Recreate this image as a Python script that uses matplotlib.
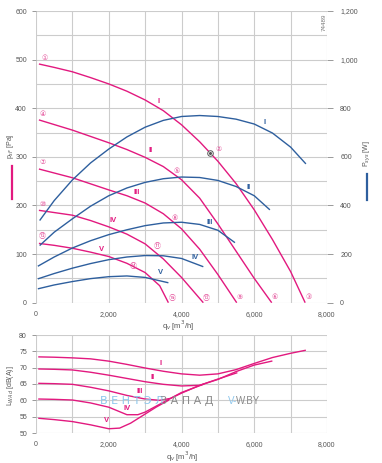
import matplotlib
matplotlib.use("Agg")
import matplotlib.pyplot as plt
from matplotlib.ticker import FuncFormatter, MultipleLocator
from matplotlib.lines import Line2D

plt.rcParams['font.family'] = ['Liberation Sans', 'DejaVu Sans', 'Noto Sans CJK SC']

# ---- data ----
# pressure curves p_sF [Pa] vs q_v [m3/h]
q_p1 = [80, 500, 1000, 1500, 2000, 2500, 3000, 3500, 4000, 4500, 5000, 5500, 6000, 6500, 7000, 7400]
p_1 = [491, 484, 475, 463, 450, 435, 417, 395, 366, 331, 291, 245, 191, 130, 64, 0]
q_p2 = [80, 1000, 2000, 2500, 3000, 3500, 4000, 4500, 5000, 5500, 6000, 6480]
p_2 = [376, 355, 329, 315, 299, 280, 253, 215, 162, 106, 50, 0]
q_p3 = [80, 1000, 2000, 2500, 3000, 3500, 4000, 4500, 5000, 5518]
p_3 = [275, 257, 232, 220, 205, 183, 152, 110, 58, 0]
q_p4 = [80, 1000, 1500, 2000, 2500, 3000, 3500, 4000, 4600]
p_4 = [190, 180, 169, 156, 141, 121, 90, 52, 0]
q_p5 = [80, 500, 1000, 1500, 2000, 2500, 3000, 3400, 3640]
p_5 = [122, 118, 112, 104, 95, 81, 62, 35, 0]

# power curves P_sys [W]
q_w1 = [100, 500, 1000, 1500, 2000, 2500, 3000, 3500, 4000, 4500, 5000, 5500, 6000, 6500, 7000, 7420]
w_1 = [338, 420, 505, 575, 632, 682, 722, 750, 766, 770, 766, 755, 735, 698, 640, 571]
q_w2 = [100, 500, 1000, 1500, 2000, 2500, 3000, 3500, 4000, 4500, 5000, 5500, 6000, 6430]
w_2 = [235, 290, 345, 397, 440, 472, 495, 510, 517, 515, 503, 478, 440, 382]
q_w3 = [50, 500, 1000, 1500, 2000, 2500, 3000, 3500, 4000, 4500, 5000, 5470]
w_3 = [150, 188, 225, 255, 280, 300, 317, 328, 331, 322, 298, 247]
q_w4 = [50, 500, 1000, 1500, 2000, 2500, 3000, 3500, 4000, 4600]
w_4 = [98, 120, 142, 161, 177, 188, 194, 193, 182, 148]
q_w5 = [50, 500, 1000, 1500, 2000, 2500, 3000, 3640]
w_5 = [57, 73, 87, 99, 107, 110, 104, 82]

# sound power L_WAd [dB(A)]
q_l1 = [80, 500, 1000, 1500, 2000, 2500, 3000, 3500, 4000, 4500, 5000, 5500, 6000, 6500, 7000, 7400]
l_1 = [73.3, 73.2, 73.0, 72.7, 72.0, 71.0, 69.9, 68.9, 68.1, 67.7, 68.1, 69.4, 71.3, 73.1, 74.4, 75.3]
q_l2 = [80, 500, 1000, 1500, 2000, 2500, 3000, 3500, 4000, 4500, 5000, 5500, 6000, 6480]
l_2 = [69.6, 69.5, 69.3, 68.6, 67.7, 66.7, 65.7, 64.9, 64.4, 64.6, 66.4, 68.8, 70.8, 72.0]
q_l3 = [80, 500, 1000, 1500, 2000, 2500, 3000, 3400, 3700, 4000, 4500, 5000, 5518]
l_3 = [65.2, 65.1, 64.9, 64.0, 62.9, 61.5, 60.4, 60.0, 60.6, 62.2, 64.6, 66.5, 68.4]
q_l4 = [80, 500, 1000, 1500, 2000, 2500, 2800, 3000, 3500, 4000, 4600]
l_4 = [60.4, 60.3, 60.1, 59.2, 57.9, 55.6, 55.6, 56.4, 59.4, 62.4, 64.9]
q_l5 = [80, 500, 1000, 1500, 2000, 2300, 2600, 3000, 3300, 3640]
l_5 = [54.5, 54.1, 53.5, 52.5, 51.3, 51.5, 53.0, 55.8, 57.9, 60.0]

romans = ['I', 'II', 'III', 'IV', 'V']
start_nums = ['①', '④', '⑦', '⑩', '⑬']
mid_nums = ['②', '⑤', '⑧', '⑪', '⑭']
end_nums = ['③', '⑥', '⑨', '⑫', '⑮']

PINK = '#e2197f'
BLUE = '#2e5f9e'
GRID = '#cccccc'
TXT = '#555555'

W, H = 382, 463
fig = plt.figure(figsize=(W / 100, H / 100), dpi=100)


def fx(px):
    return px / W


def fy(py):
    return 1 - py / H


comma = FuncFormatter(lambda v, pos: f'{v:,.0f}')

# ---------------- top chart ----------------
ax = fig.add_axes([fx(36), fy(302.7), fx(327) - fx(36), fy(11) - fy(302.7)])
ax.set_xlim(0, 8000)
ax.set_ylim(0, 600)
ax.xaxis.set_major_locator(MultipleLocator(2000))
ax.xaxis.set_minor_locator(MultipleLocator(1000))
ax.yaxis.set_major_locator(MultipleLocator(100))
ax.yaxis.set_minor_locator(MultipleLocator(50))
ax.xaxis.set_major_formatter(comma)
ax.grid(True, which='both', color=GRID, lw=0.8)
ax.set_axisbelow(True)
for s in ax.spines.values():
    s.set_visible(False)
ax.tick_params(axis='y', which='major', length=3, width=0.7, color='#999999',
               labelsize=5, labelcolor=TXT, pad=3.5)
ax.tick_params(axis='x', which='major', length=0, labelsize=5, labelcolor=TXT, pad=6)
ax.tick_params(which='minor', length=0)

ax2 = ax.twinx()
ax2.set_ylim(0, 1200)
ax2.yaxis.set_major_locator(MultipleLocator(200))
ax2.yaxis.set_major_formatter(comma)
for s in ax2.spines.values():
    s.set_visible(False)
ax2.tick_params(axis='y', length=4, width=0.7, color='#999999', labelsize=5,
                labelcolor=TXT, pad=5.5)

p_curves = [(q_p1, p_1), (q_p2, p_2), (q_p3, p_3), (q_p4, p_4), (q_p5, p_5)]
w_curves = [(q_w1, w_1), (q_w2, w_2), (q_w3, w_3), (q_w4, w_4), (q_w5, w_5)]
for q, p in p_curves:
    ax.plot(q, p, color=PINK, lw=1.0, solid_capstyle='butt')
for q, w in w_curves:
    ax2.plot(q, w, color=BLUE, lw=1.0, solid_capstyle='butt')

circ = dict(color='#e4509a', fontsize=5, ha='center', va='center',
            family=['DejaVu Sans', 'Noto Sans CJK SC'])
start_pos = [(230, 503), (180, 388), (175, 290), (175, 203), (175, 138)]
mid_pos = [(5030, 316), (3870, 270), (3820, 174), (3320, 117), (2660, 76)]
end_pos = [(7505, 11), (6570, 11), (5608, 11), (4693, 11), (3747, 11)]
for i in range(5):
    ax.text(*start_pos[i], start_nums[i], **circ)
    ax.text(*mid_pos[i], mid_nums[i], **circ)
    ax.text(*end_pos[i], end_nums[i], **circ)

# operating point marker
ax.plot([4784], [307], marker='o', ms=4, mfc='white', mec='#555555', mew=0.7)
ax.plot([4784], [307], marker='o', ms=1.2, color='#555555')

p_lab = [(3360, 414), (3150, 313), (2770, 227), (2125, 170), (1805, 110)]
for (x, y), r in zip(p_lab, romans):
    ax.text(x, y, r, color=PINK, fontsize=5.5, fontweight='bold', ha='center', va='center')
w_lab = [(6295, 741), (5837, 475), (4784, 329), (4370, 187), (3428, 123)]
for (x, y), r in zip(w_lab, romans):
    ax2.text(x, y, r, color=BLUE, fontsize=5.5, fontweight='bold', ha='center', va='center')

fig.text(fx(324), fy(22), '74489', rotation=90, fontsize=4.5, color='#777777',
         ha='center', va='center')

fig.text(fx(10.5), fy(146), r'p$_{sF}$ [Pa]', rotation=90, fontsize=5, color=TXT,
         ha='center', va='center')
fig.add_artist(Line2D([fx(12), fx(12)], [fy(166), fy(199)], color=PINK, lw=1.6))
fig.text(fx(367), fy(154), r'P$_{sys}$ [W]', rotation=90, fontsize=5, color=TXT,
         ha='center', va='center')
fig.add_artist(Line2D([fx(367), fx(367)], [fy(174), fy(200)], color=BLUE, lw=1.6))
fig.text(fx(178), fy(326), r'q$_v$ [m$^3$/h]', fontsize=5.5, color=TXT, ha='center', va='center')

# ---------------- bottom chart ----------------
bx = fig.add_axes([fx(36), fy(433), fx(327) - fx(36), fy(335) - fy(433)])
bx.set_xlim(0, 8000)
bx.set_ylim(50, 80)
bx.xaxis.set_major_locator(MultipleLocator(2000))
bx.xaxis.set_minor_locator(MultipleLocator(1000))
bx.yaxis.set_major_locator(MultipleLocator(5))
bx.xaxis.set_major_formatter(comma)
bx.grid(True, which='both', color=GRID, lw=0.8)
bx.set_axisbelow(True)
for s in bx.spines.values():
    s.set_visible(False)
bx.tick_params(axis='y', length=3, width=0.7, color='#999999', labelsize=5,
               labelcolor=TXT, pad=3.5)
bx.tick_params(axis='x', length=0, labelsize=5, labelcolor=TXT, pad=6)
bx.tick_params(which='minor', length=0)

l_curves = [(q_l1, l_1), (q_l2, l_2), (q_l3, l_3), (q_l4, l_4), (q_l5, l_5)]
for q, l in l_curves:
    bx.plot(q, l, color=PINK, lw=1.0)
l_lab = [(3428, 71.4), (3208, 67.1), (2840, 62.7), (2510, 57.6), (1925, 53.8)]
for (x, y), r in zip(l_lab, romans):
    bx.text(x, y, r, color=PINK, fontsize=5.5, fontweight='bold', ha='center', va='center')

fig.text(fx(11), fy(386), r'L$_{WAd}$ [dB(A)]', rotation=90, fontsize=5, color=TXT,
         ha='center', va='center')
fig.text(fx(182), fy(457), r'q$_v$ [m$^3$/h]', fontsize=5.5, color=TXT, ha='center', va='center')

# watermark
fig.text(fx(100), fy(401), 'В Е Н Т Э Л', fontsize=8, color='#8cc6ec', ha='left', va='center',
         family='DejaVu Sans')
fig.text(fx(160), fy(401), 'З А П А Д', fontsize=8, color='#8a8a8a', ha='left', va='center',
         family='DejaVu Sans')
fig.text(fx(228), fy(401), 'V-', fontsize=7, color='#8cc6ec', ha='left', va='center')
fig.text(fx(236), fy(401), 'W.BY', fontsize=7, color='#8a8a8a', ha='left', va='center')

fig.savefig('out.png', dpi=100)
